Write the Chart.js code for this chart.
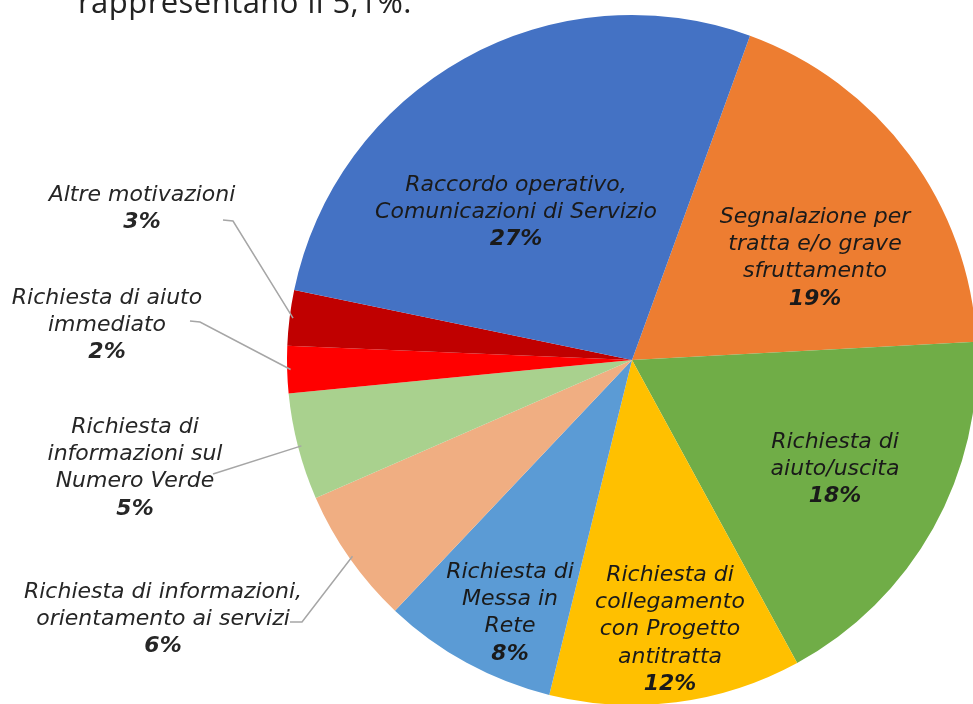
<!DOCTYPE html>
<html>
<head>
<meta charset="utf-8">
<script src="https://cdn.jsdelivr.net/npm/chart.js@4"></script>
<style>
  html, body { margin: 0; padding: 0; background: #fff; overflow: hidden; }
  #wrap { position: relative; width: 973px; height: 704px; overflow: hidden; }
  canvas { position: absolute; left: 0; top: 0; }
</style>
</head>
<body>
<div id="wrap">
  <canvas id="pieChart" width="1000" height="720"></canvas>
</div>
<script>
// slice order follows the picture, clockwise from the orange slice
const categories = [
    ['Segnalazione per', 'tratta e/o grave', 'sfruttamento'],
    ['Richiesta di', 'aiuto/uscita'],
    ['Richiesta di', 'collegamento', 'con Progetto', 'antitratta'],
    ['Richiesta di', 'Messa in', 'Rete'],
    ['Richiesta di informazioni,', 'orientamento ai servizi'],
    ['Richiesta di', 'informazioni sul', 'Numero Verde'],
    ['Richiesta di aiuto', 'immediato'],
    ['Altre motivazioni'],
    ['Raccordo operativo,', 'Comunicazioni di Servizio']
];
const shares = [18.6, 17.9, 11.8, 8.2, 6.4, 5.0, 2.2, 2.6, 27.3];
const colors = ['#ED7D31', '#70AD47', '#FFC000', '#5B9BD5', '#F0AE82', '#A9D18E', '#FF0000', '#C00000', '#4472C4'];
const introText = 'rappresentano il 5,1%.';

// label placement: offset of first line from pie centre, plus leader line start for outside labels
const labelSpots = [
    { dx: 183, dy: -143 },
    { dx: 203, dy: 82 },
    { dx: 38, dy: 215 },
    { dx: -122, dy: 212 },
    { dx: -469, dy: 232, lead: [[290, 622], [302, 622]] },
    { dx: -497, dy: 67, lead: [[213, 474]] },
    { dx: -525, dy: -62, lead: [[190, 321], [200, 322]] },
    { dx: -490, dy: -165, lead: [[223, 220], [233, 221]] },
    { dx: -116, dy: -175 }
];

const pieLabels = {
    id: 'pieLabels',
    afterDatasetsDraw(chart) {
        const ctx = chart.ctx;
        const arcs = chart.getDatasetMeta(0).data;
        ctx.save();
        arcs.forEach((arc, i) => {
            const spot = labelSpots[i];
            if (spot.lead) {
                const mid = (arc.startAngle + arc.endAngle) / 2;
                const ex = arc.x + Math.cos(mid) * arc.outerRadius * 0.99;
                const ey = arc.y + Math.sin(mid) * arc.outerRadius * 0.99;
                ctx.beginPath();
                ctx.strokeStyle = '#a6a6a6';
                ctx.lineWidth = 1.5;
                ctx.moveTo(spot.lead[0][0], spot.lead[0][1]);
                for (let k = 1; k < spot.lead.length; k++) ctx.lineTo(spot.lead[k][0], spot.lead[k][1]);
                ctx.lineTo(ex, ey);
                ctx.stroke();
            }
            const lines = categories[i];
            const x = arc.x + spot.dx;
            let y = arc.y + spot.dy;
            ctx.fillStyle = spot.lead ? '#262626' : '#1a1a1a';
            ctx.textAlign = 'center';
            ctx.textBaseline = 'middle';
            ctx.font = 'italic 22px "DejaVu Sans", Verdana, sans-serif';
            lines.forEach(line => {
                ctx.fillText(line, x, y);
                y += 27.3;
            });
            ctx.font = 'italic bold 22px "DejaVu Sans", Verdana, sans-serif';
            ctx.fillText(Math.round(shares[i]) + '%', x, y);
        });

        // cut-off sentence from the surrounding text, top left
        ctx.font = '31px "Open Sans", Lato, sans-serif';
        ctx.textAlign = 'left';
        ctx.textBaseline = 'alphabetic';
        ctx.fillStyle = '#222';
        const w = ctx.measureText(introText).width;
        ctx.letterSpacing = ((334 - w) / introText.length).toFixed(2) + 'px';
        ctx.fillText(introText, 78, 13);
        ctx.restore();
    }
};

const ctx = document.getElementById('pieChart').getContext('2d');
const pieChart = new Chart(ctx, {
    type: 'pie',
    data: {
        labels: categories.map(l => l.join(' ')),
        datasets: [{
            data: shares,
            backgroundColor: colors,
            borderWidth: 0
        }]
    },
    options: {
        responsive: false,
        animation: false,
        rotation: 20,
        layout: {
            padding: { left: 287, top: 15, right: 23, bottom: 15 }
        },
        plugins: {
            legend: { display: false },
            tooltip: { enabled: false }
        }
    },
    plugins: [pieLabels]
});
</script>
</body>
</html>
